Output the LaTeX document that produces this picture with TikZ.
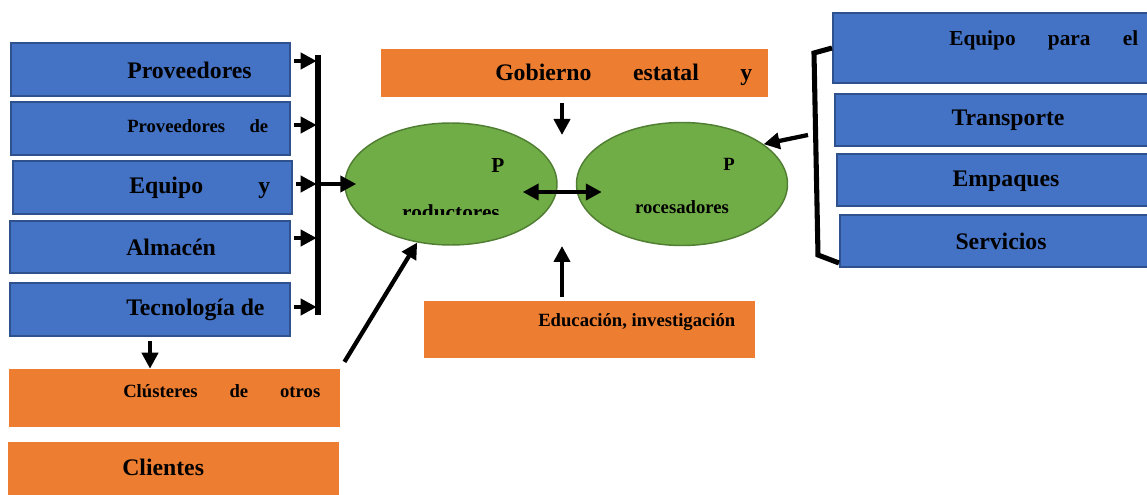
\documentclass[tikz,border=0pt]{standalone}
\usepackage{fontspec}
\setmainfont{Liberation Serif}
\usepackage{tikz}
\usetikzlibrary{arrows.meta,shapes.geometric,positioning,fit}
\definecolor{boxBlue}{RGB}{68,114,196}
\definecolor{boxBlueDark}{RGB}{47,82,143}
\definecolor{boxOrange}{RGB}{237,125,49}
\definecolor{ellGreen}{RGB}{112,173,71}
\definecolor{ellGreenDark}{RGB}{80,126,50}
\newcommand{\bigtxt}{\fontsize{17.8}{20}\selectfont\bfseries}
\newcommand{\midtxt}{\fontsize{16}{18}\selectfont\bfseries}
\newcommand{\smalltxt}{\fontsize{14}{16}\selectfont\bfseries}
\tikzset{
  bluebox/.style={rectangle, draw=boxBlueDark, line width=1.5pt, fill=boxBlue, inner sep=0pt},
  orangebox/.style={rectangle, fill=boxOrange, inner sep=0pt},
  greenell/.style={ellipse, draw=ellGreenDark, line width=1.1pt, fill=ellGreen, inner sep=0pt},
  lbl/.style={inner sep=0pt, anchor=west},
  arr/.style={-{Triangle[length=12pt,width=12pt]}, line width=3.2pt},
  darr/.style={{Triangle[length=12pt,width=12pt]}-{Triangle[length=12pt,width=12pt]}, line width=3.4pt},
  barline/.style={line width=3.8pt}
}
\begin{document}
\begin{tikzpicture}[x=0.75pt, y=-0.75pt]
  \useasboundingbox (0,0) rectangle (1147,495);
  % left column
  \node[bluebox, fit={(11,43) (290,96)}] (b1) {};
  \node[bluebox, fit={(11,102) (290,155)}] (b2) {};
  \node[bluebox, fit={(13,161) (292,214)}] (b3) {};
  \node[bluebox, fit={(10,221) (290,273)}] (b4) {};
  \node[bluebox, fit={(10,283) (290,336)}] (b5) {};
  \node[lbl, font=\bigtxt] (t1) at (127,70) {Proveedores};
  \node[lbl, font=\smalltxt] (t2) at (127,126) {\makebox[105.75pt][s]{Proveedores de}};
  \node[lbl, font=\bigtxt] (t3) at (129,188) {\makebox[105.75pt][s]{Equipo y}};
  \node[lbl, font=\bigtxt] (t4) at (126,247) {Almacén};
  \node[lbl, font=\bigtxt] (t5) at (126,310) {Tecnología de};
  \node[orangebox, fit={(9,369) (340,427)}] (clus) {};
  \node[orangebox, fit={(8,442) (339,497)}] (cli) {};
  \node[lbl, font=\smalltxt] (tclus) at (123,391) {\makebox[147.75pt][s]{Clústeres de otros}};
  \node[lbl, font=\bigtxt] (tcli) at (122,467) {Clientes};
  % centre
  \node[orangebox, fit={(381,49) (768,97)}] (gob) {};
  \node[lbl, font=\bigtxt] (tgob) at (495,75) {\makebox[192.75pt][s]{Gobierno estatal y}};
  \node[orangebox, fit={(424,301) (755,358)}] (edu) {};
  \node[lbl, font=\smalltxt] (tedu) at (538,322) {Educación, investigación};
  \node[greenell, minimum width=159pt, minimum height=91.5pt] (prod) at (451,184) {};
  \node[greenell, minimum width=158.25pt, minimum height=92.25pt] (proc) at (682,184) {};
  \node[font=\midtxt, inner sep=0pt] (pp) at (498,166) {P};
  \begin{scope}
    \clip (340,100) rectangle (560,215);
    \node[font=\midtxt, inner sep=0pt, anchor=base] (tprod) at (451,220) {roductores};
  \end{scope}
  \node[font=\smalltxt, inner sep=0pt] (pc) at (729,164) {P};
  \node[font=\smalltxt, inner sep=0pt] (tproc) at (682,207) {rocesadores};
  % right column
  \node[bluebox, fit={(833,13) (1152,83)}] (r1) {};
  \node[bluebox, fit={(835,94) (1152,146)}] (r2) {};
  \node[bluebox, fit={(837,154) (1152,206)}] (r3) {};
  \node[bluebox, fit={(840,215) (1152,267)}] (r4) {};
  \node[lbl, font=\midtxt] (tr1) at (949,40) {\makebox[141.75pt][s]{Equipo para el}};
  \node[font=\bigtxt, inner sep=0pt] (tr2) at (1008,120) {Transporte};
  \node[font=\bigtxt, inner sep=0pt] (tr3) at (1006,181) {Empaques};
  \node[font=\bigtxt, inner sep=0pt] (tr4) at (1001,241) {Servicios};
  % connectors
  \coordinate (bartop) at (318,55);
  \coordinate (barbot) at (318,315);
  \draw[barline] (bartop) -- (barbot);
  \foreach \b/\y in {b1/61,b2/125,b3/184,b4/238,b5/307}
    \draw[arr, shorten <=2pt] (\b.east |- 0,\y) -- ([xshift=-1pt]bartop |- 0,\y);
  \draw[arr] (bartop |- 0,184) -- ([xshift=9pt]prod.west);
  \draw[arr, shorten <=3pt] (b5.south) -- (b5.south |- clus.north);
  \draw[arr, shorten <=6pt] (clus.north east) -- (prod.240);
  \coordinate (gobtip) at (562,135);
  \draw[arr, shorten <=4.5pt] (gob.south -| gobtip) -- (gobtip);
  \coordinate (edutip) at (562,246);
  \draw[arr, shorten <=3pt] (edu.north -| edutip) -- (edutip);
  \draw[darr] ([xshift=-26.25pt,yshift=-6pt]prod.east) -- ([xshift=19.5pt,yshift=-6pt]proc.west);
  \coordinate (brk1) at (814,53);
  \coordinate (brk2) at (818,255);
  \coordinate (brkmid) at (808,135);
  \draw[barline] (r1.west |- 0,48) -- (brk1) -- (brk2) -- (r4.west |- 0,263);
  \draw[arr] (brkmid) -- (proc.26);
\end{tikzpicture}
\end{document}
